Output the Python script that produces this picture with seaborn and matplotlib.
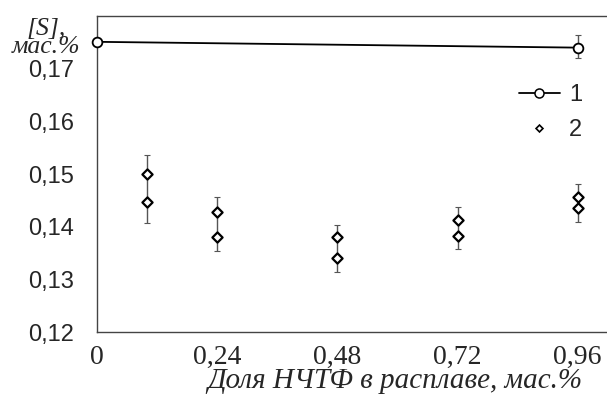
import numpy as np
import pandas as pd
import matplotlib.pyplot as plt
import seaborn as sns
from matplotlib.lines import Line2D

# серия 1
x1 = [0.0, 0.96]
y1 = [0.1751, 0.1740]
err1_x = [0.96]
err1_lo = [0.1720]
err1_hi = [0.1764]

# серия 2
x2 = [0.10, 0.10, 0.24, 0.24, 0.48, 0.48, 0.72, 0.72, 0.96, 0.96]
y2 = [0.1501, 0.1448, 0.1429, 0.1380, 0.1380, 0.1340, 0.1413, 0.1383, 0.1456, 0.1436]
err2_x = [0.10, 0.24, 0.48, 0.72, 0.96]
err2_lo = [0.1408, 0.1354, 0.1314, 0.1358, 0.1410]
err2_hi = [0.1537, 0.1456, 0.1404, 0.1438, 0.1482]

xticks = [0, 0.24, 0.48, 0.72, 0.96]
xtick_labels = ['0', '0,24', '0,48', '0,72', '0,96']
yticks = [0.12, 0.13, 0.14, 0.15, 0.16, 0.17]
ytick_labels = ['0,12', '0,13', '0,14', '0,15', '0,16', '0,17']

sns.set_style('white')

fig = plt.figure(figsize=(6.07, 3.96), dpi=100)
ax = fig.add_axes([0.1603, 0.1609, 0.8397, 0.7987])

df1 = pd.DataFrame({'x': x1, 'y': y1})
df2 = pd.DataFrame({'x': x2, 'y': y2})

# планки погрешностей
for ex, lo, hi in [(err1_x, err1_lo, err1_hi), (err2_x, err2_lo, err2_hi)]:
    lo = np.array(lo)
    hi = np.array(hi)
    mid = (lo + hi) / 2
    ax.errorbar(ex, mid, yerr=(hi - lo) / 2, fmt='none', ecolor='#555555',
                elinewidth=1.0, capsize=2, capthick=0.8, zorder=2)

sns.lineplot(data=df1, x='x', y='y', color='black', linewidth=1.3, marker='o',
             markersize=7, markerfacecolor='white', markeredgecolor='black',
             markeredgewidth=1.3, ax=ax, zorder=5, legend=False, clip_on=False)
sns.scatterplot(data=df2, x='x', y='y', marker='D', s=27, facecolor='white',
                edgecolor='black', linewidth=1.6, ax=ax, zorder=4, legend=False)

ax.set_xlim(0, 1.0186)
ax.set_ylim(0.12, 0.18)
ax.set_xticks(xticks)
ax.set_xticklabels(xtick_labels, family='Liberation Serif', fontsize=20)
ax.set_yticks(yticks)
ax.set_yticklabels(ytick_labels, family='Liberation Sans', fontsize=17)
ax.tick_params(axis='both', direction='in', length=6, width=0.9, color='#555555')
ax.tick_params(axis='y', pad=17)
ax.tick_params(axis='x', pad=9)

for side in ['left', 'bottom', 'top']:
    ax.spines[side].set_visible(True)
    ax.spines[side].set_color('#444444')
    ax.spines[side].set_linewidth(1.0)
ax.spines['right'].set_visible(False)

ax.set_xlabel('Доля НЧТФ в расплаве, мас.%', family='Liberation Serif',
              style='italic', fontsize=21)
ax.xaxis.set_label_coords(0.584, -0.176)
ax.xaxis.label.set_va('baseline')

ax.set_ylabel('[S],\nмас.%', family='Liberation Serif', style='italic',
              fontsize=18.5, rotation=0, ha='center', va='center',
              multialignment='center', linespacing=0.75)
ax.yaxis.set_label_coords(-0.1, 0.93)

handles = [
    Line2D([], [], color='black', linewidth=1.3, marker='o', markersize=6.5,
           markerfacecolor='white', markeredgecolor='black', markeredgewidth=1.1),
    Line2D([], [], linestyle='none', marker='D', markersize=3.5,
           markerfacecolor='white', markeredgecolor='black', markeredgewidth=1.2),
]
ax.legend(handles, ['1', '2'], loc='upper left', bbox_to_anchor=(0.805, 0.822),
          frameon=False, borderpad=0, handlelength=1.7, handletextpad=0.4,
          labelspacing=0.55, prop={'family': 'Liberation Sans', 'size': 17})

fig.savefig('out.png', dpi=100)
